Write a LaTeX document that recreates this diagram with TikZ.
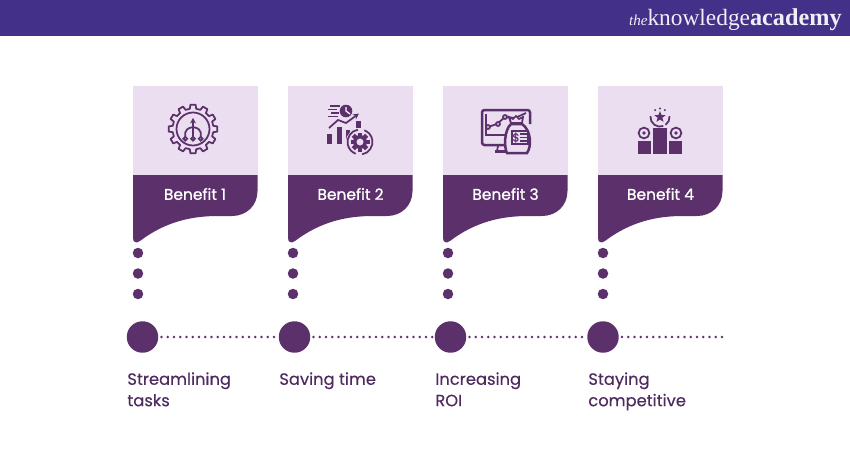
\documentclass[tikz,border=0pt]{standalone}
\usepackage{fontspec}
\setmainfont{Poppins}
\newfontfamily\logofont{Liberation Serif}
\newfontfamily\labelfont[FakeBold=1.1]{Poppins}
\newfontfamily\capfont[FakeBold=0.25]{Poppins}
\usetikzlibrary{calc,arrows.meta}
\definecolor{brandViolet}{RGB}{67,48,136}
\definecolor{softLilac}{RGB}{234,222,240}
\definecolor{plumDark}{RGB}{91,48,107}
\definecolor{plumText}{RGB}{78,42,96}
\tikzset{
  lilacbox/.style={fill=softLilac,minimum width=2.49cm,minimum height=1.78cm,inner sep=0pt,anchor=north west},
  benefitlabel/.style={text=white,font=\labelfont\fontsize{8.8}{10}\selectfont,inner sep=0pt},
  smalldot/.style={circle,fill=plumDark,minimum size=0.21cm,inner sep=0pt},
  bigdot/.style={circle,fill=plumDark,minimum size=0.63cm,inner sep=0pt},
  caption/.style={anchor=north west,text=plumText,align=left,inner sep=0pt,font=\capfont\fontsize{9.3}{12.2}\selectfont},
  dottedlink/.style={plumDark,line width=0.055cm,line cap=round,dash pattern=on 0pt off 0.125cm},
  iconline/.style={plumDark,line width=0.035cm},
}
\begin{document}
\begin{tikzpicture}[x=0.02cm,y=0.02cm]
\path[use as bounding box] (0,0) rectangle (850,-450);
\fill[white] (0,0) rectangle (850,-450);

% Bandeau du haut
\fill[brandViolet] (0,0) rectangle (850,-36);
\node[anchor=base east,text=white!92!brandViolet,inner sep=0pt] (logo) at (842,-25.5) {\logofont{\itshape\fontsize{8.6}{10}\selectfont the}\fontsize{13.3}{15}\selectfont knowledge{\fontsize{13.8}{15}\selectfont\textbf{academy}}};

% Cartes
\foreach \n/\x/\cx in {1/133/195,2/288/350.5,3/443/505.5,4/598/660.5}{
  \node[lilacbox] (box\n) at (\x,-86) {};
  \fill[plumDark] (\x,-175) -- (\x+124.5,-175) -- (\x+124.5,-191)
    .. controls (\x+124.5,-206) and (\x+113,-216) .. (\x+99,-216)
    -- (\x+85,-216) .. controls (\x+58,-216) and (\x+32,-222) .. (\x+7,-241)
    .. controls (\x+3,-244) and (\x,-242) .. (\x,-238) -- cycle;
  \node[benefitlabel] (label\n) at (\cx,-194) {Benefit \n};
}

% Points verticaux
\foreach \n/\x in {1/138,2/293,3/448,4/603}{
  \node[smalldot] (dotA\n) at (\x,-253) {};
  \node[smalldot] (dotB\n) at (\x,-273.5) {};
  \node[smalldot] (dotC\n) at (\x,-294) {};
}

% Frise
\node[bigdot] (stop1) at (142.5,-337) {};
\node[bigdot] (stop2) at (294.5,-337) {};
\node[bigdot] (stop3) at (450.5,-337) {};
\node[bigdot] (stop4) at (603,-337) {};
\coordinate (lineEnd) at (726,-337);
\draw[dottedlink,shorten <=0.06cm,shorten >=0.02cm] (stop1) -- (stop2);
\draw[dottedlink,shorten <=0.06cm,shorten >=0.02cm] (stop2) -- (stop3);
\draw[dottedlink,shorten <=0.06cm,shorten >=0.02cm] (stop3) -- (stop4);
\draw[dottedlink,shorten <=0.06cm] (stop4) -- (lineEnd);

% Légendes
\node[caption] (cap1) at (127,-372) {Streamlining\\tasks};
\node[caption] (cap2) at (279,-372) {Saving time};
\node[caption] (cap3) at (435,-372) {Increasing\\ROI};
\node[caption] (cap4) at (588,-372) {Staying\\competitive};

% Icône 1 - roue dentée
\begin{scope}[shift={(193,-129)}]
  \draw[iconline,line join=round] (-9:20.5)
    \foreach \k in {0,...,11}{ -- ({\k*30-9}:20.5) -- ({\k*30-6}:24.5) -- ({\k*30+6}:24.5) -- ({\k*30+9}:20.5)} -- cycle;
  \draw[iconline] (0,0) circle[radius=16.5];
  \draw[iconline,-{Stealth[length=0.11cm,width=0.12cm]}] (0,-8) -- (0,11);
  \draw[iconline,rounded corners=0.04cm] (-7.7,-8) -- (-7.7,-1.5) -- (-2,2) -- (2,2) -- (7.7,-1.5) -- (7.7,-8);
  \foreach \k in {-7.7,0,7.7}{\draw[iconline] (\k,-9.8) circle[radius=1.9];}
\end{scope}

% Icône 2 - graphique et engrenage
\fill[plumDark] (327,-134) rectangle (332,-143.5);
\fill[plumDark] (337,-127) rectangle (341.5,-143.5);
\fill[plumDark] (346,-130) rectangle (350,-143.5);
\fill[plumDark] (356,-121) rectangle (361,-128);
\foreach \yy/\a/\b in {106/330/340,109.5/328/337,113/331/339,116.5/328/338}{
  \draw[iconline] (\a,-\yy) -- (\b,-\yy);
}
\fill[plumDark] (346,-111) circle[radius=6.3];
\draw[white,line width=0.025cm] (346,-107) -- (346,-111) -- (350,-114);
\draw[iconline,-{Stealth[length=0.12cm,width=0.12cm]}] (329,-128) -- (338,-120) -- (346,-123) -- (359,-113.5);
\begin{scope}[shift={(360,-142)}]
  \fill[softLilac] (0,0) circle[radius=14];
  \draw[iconline] (100:12.5) arc[start angle=100,end angle=250,radius=12.5];
  \draw[iconline] (280:12.5) arc[start angle=280,end angle=430,radius=12.5];
  \foreach \k in {0,45,...,315}{\draw[plumDark,line width=0.09cm] (\k:6.5) -- (\k:9.5);}
  \draw[plumDark,line width=0.07cm] (0,0) circle[radius=5.5];
\end{scope}

% Icône 3 - écran et sac
\draw[iconline,line width=0.05cm,rounded corners=0.05cm] (505,-145) -- (482,-145) -- (482,-110) -- (530,-110) -- (530,-124);
\draw[iconline] (486,-114) -- (486,-135) -- (508,-135);
\draw[iconline,line width=0.05cm] (495,-151.5) -- (508,-151.5);
\draw[iconline] (498,-146) -- (497,-151);
\draw[iconline] (488,-127) -- (497,-124) -- (505,-117) -- (515,-118) -- (526,-113);
\foreach \p/\q in {488/127,498/124,505/117}{\draw[iconline,fill=softLilac] (\p,-\q) circle[radius=2];}
\draw[iconline,fill=softLilac,line width=0.05cm] (511,-124)
  .. controls (504,-130) and (504,-148) .. (507,-153) -- (527,-153)
  .. controls (532,-146) and (531,-130) .. (522,-124) -- cycle;
\draw[iconline,fill=softLilac] (511,-123) -- (509,-117) -- (513,-119) -- (516,-116) -- (519,-119) -- (523,-117) -- (522,-123) -- cycle;
\draw[iconline,fill=softLilac] (512,-131) rectangle (528,-144);
\node[text=plumDark,inner sep=0pt,font=\capfont\fontsize{6.5}{7}\selectfont] (dollar) at (516,-137.5) {\$};
\foreach \yy in {134,137.5,141}{\draw[iconline,line width=0.03cm] (520,-\yy) -- (527,-\yy);}

% Icône 4 - podium
\fill[plumDark] (638,-141) rectangle (651,-154);
\fill[plumDark] (653,-128) rectangle (667,-154);
\fill[plumDark] (669,-141) rectangle (682,-154);
\foreach \k in {644,676}{
  \draw[iconline] (\k,-133) circle[radius=5.4];
  \fill[plumDark] (\k,-133) circle[radius=1.8];
}
\fill[plumDark] ($(660,-117)+(90:6)$)
  \foreach \k in {1,...,9}{ -- ($(660,-117)+({90+36*\k}:{mod(\k,2)==1 ? 2.5 : 6})$)} -- cycle;
\draw[iconline] ($(660,-117)+(175:9.6)$) arc[start angle=175,end angle=290,radius=9.6];
\draw[iconline] ($(660,-117)+(305:9.6)$) arc[start angle=305,end angle=365,radius=9.6];
\foreach \a in {125,90,55}{\fill[plumDark] ($(660,-117)+(\a:8.5)$) circle[radius=1.1];}
\end{tikzpicture}
\end{document}
